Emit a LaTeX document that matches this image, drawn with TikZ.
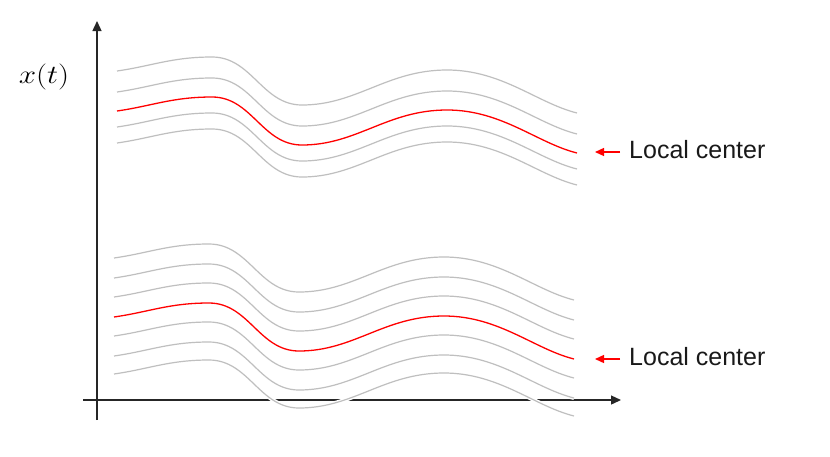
\documentclass[tikz,border=0pt]{standalone}
\usepackage{fontspec}
\setmainfont{Liberation Sans}
\usetikzlibrary{arrows.meta}
\tikzset{
  axisline/.style={line width=1.3pt, draw=black!85, -{Triangle[length=10pt,width=9pt]}},
  wavegray/.style={draw=gray!50, line width=1.2pt, preaction={draw=white, line width=4pt}},
  wavered/.style={draw=red, line width=1.3pt},
  marker/.style={draw=red, line width=1.3pt, -{Triangle[length=9pt,width=8pt]}},
  lbl/.style={font=\fontsize{25}{28}\selectfont, anchor=west, inner sep=0pt, text=black!90},
}
\begin{document}
\begin{tikzpicture}[x=1pt,y=-1pt]
\useasboundingbox (0,0) rectangle (830,456);
% axes
\coordinate (ybot) at (97,420);
\coordinate (ytop) at (97,21);
\coordinate (xleft) at (83,400);
\coordinate (xright) at (621,400);
\draw[axisline] (ybot) -- (ytop);
\draw[axisline] (xleft) -- (xright);
\node[inner sep=0pt, font=\fontsize{24.88}{28}\selectfont, xscale=1.25, yscale=1.05] (ylab) at (44,77) {$x(t)$};
% top group
\foreach \d in {-40,-19,16,32}{
  \draw[wavegray, shift={(0,\d)}] (117,111) .. controls (152,106) and (172,97) .. (212,97) .. controls (252,97) and (262,145) .. (302,145) .. controls (357,145) and (387,110) .. (447,110) .. controls (502,110) and (537,143) .. (577,153);
}
\draw[wavered] (117,111) .. controls (152,106) and (172,97) .. (212,97) .. controls (252,97) and (262,145) .. (302,145) .. controls (357,145) and (387,110) .. (447,110) .. controls (502,110) and (537,143) .. (577,153);
% bottom group
\foreach \d in {-59,-39,-20,19,39,57}{
  \draw[wavegray, shift={(-3,206+\d)}] (117,111) .. controls (152,106) and (172,97) .. (212,97) .. controls (252,97) and (262,145) .. (302,145) .. controls (357,145) and (387,110) .. (447,110) .. controls (502,110) and (537,143) .. (577,153);
}
\draw[wavered, shift={(-3,206)}] (117,111) .. controls (152,106) and (172,97) .. (212,97) .. controls (252,97) and (262,145) .. (302,145) .. controls (357,145) and (387,110) .. (447,110) .. controls (502,110) and (537,143) .. (577,153);
% labels
\node[lbl] (lc1) at (629,150) {Local center};
\node[lbl] (lc2) at (629,357) {Local center};
\coordinate (a1s) at (620,152);
\coordinate (a1e) at (595,152);
\coordinate (a2s) at (620,359);
\coordinate (a2e) at (595,359);
\draw[marker] (a1s) -- (a1e);
\draw[marker] (a2s) -- (a2e);
\end{tikzpicture}
\end{document}
